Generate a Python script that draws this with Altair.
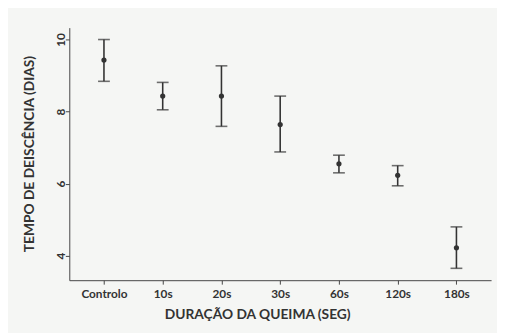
import altair as alt
import pandas as pd

categories = ["Controlo", "10s", "20s", "30s", "60s", "120s", "180s"]
means = [9.43, 8.43, 8.43, 7.64, 6.55, 6.23, 4.22]
upper = [10.0, 8.81, 9.27, 8.43, 6.79, 6.50, 4.80]
lower = [8.84, 8.05, 7.59, 6.88, 6.30, 5.94, 3.65]
y_ticks = [4, 6, 8, 10]

df = pd.DataFrame({"cat": categories, "mean": means, "hi": upper, "lo": lower})

FONT = "Lato"
INK = "#333333"

x_enc = alt.X(
    "cat:N",
    sort=categories,
    scale=alt.Scale(type="point", padding=0.59),
    axis=alt.Axis(
        title="DURAÇÃO DA QUEIMA (SEG)",
        labelAngle=0,
        labelFont=FONT, labelFontWeight="bold", labelFontSize=12, labelColor=INK,
        labelPadding=5, tickSize=4, tickColor="#444444", domainColor="#444444",
        titleFont=FONT, titleFontWeight="bold", titleFontSize=14, titleColor=INK,
        titleX=191, titleY=35, titleBaseline="middle", titleAlign="center",
    ),
)
y_scale = alt.Scale(domain=[3.32, 10.33], nice=False, zero=False)
y_axis = alt.Axis(
    title="TEMPO DE DEISCÊNCIA (DIAS)",
    values=y_ticks, grid=False,
    labelAngle=-90, labelAlign="center", labelBaseline="middle",
    labelFont=FONT, labelFontWeight="bold", labelFontSize=12, labelColor=INK,
    labelPadding=5, tickSize=4, tickColor="#444444", domainColor="#444444",
    titleFont=FONT, titleFontWeight="bold", titleFontSize=14, titleColor=INK,
    titleX=-40, titleY=128, titleBaseline="middle", titleAlign="center", titleAngle=-90,
)

base = alt.Chart(df)
rules = base.mark_rule(color=INK, strokeWidth=1.6).encode(
    x=x_enc,
    y=alt.Y("lo:Q", scale=y_scale, axis=y_axis),
    y2="hi:Q",
)
cap_hi = base.mark_tick(color=INK, thickness=1.6, size=12, orient="horizontal").encode(
    x=alt.X("cat:N", sort=categories), y=alt.Y("hi:Q")
)
cap_lo = base.mark_tick(color=INK, thickness=1.6, size=12, orient="horizontal").encode(
    x=alt.X("cat:N", sort=categories), y=alt.Y("lo:Q")
)
pts = base.mark_point(filled=True, color=INK, size=28, opacity=1).encode(
    x=alt.X("cat:N", sort=categories), y=alt.Y("mean:Q")
)

chart = (
    alt.layer(rules, cap_hi, cap_lo, pts)
    .properties(
        width=428.7, height=256.7,
        background="#f5f6f4",
        padding={"left": 62.3, "top": 17.3, "right": 6, "bottom": 51},
        autosize=alt.AutoSizeParams(type="none"),
    )
    .configure_view(stroke=None)
)

chart.save("out.html", embed_options={"renderer": "svg", "actions": False})
